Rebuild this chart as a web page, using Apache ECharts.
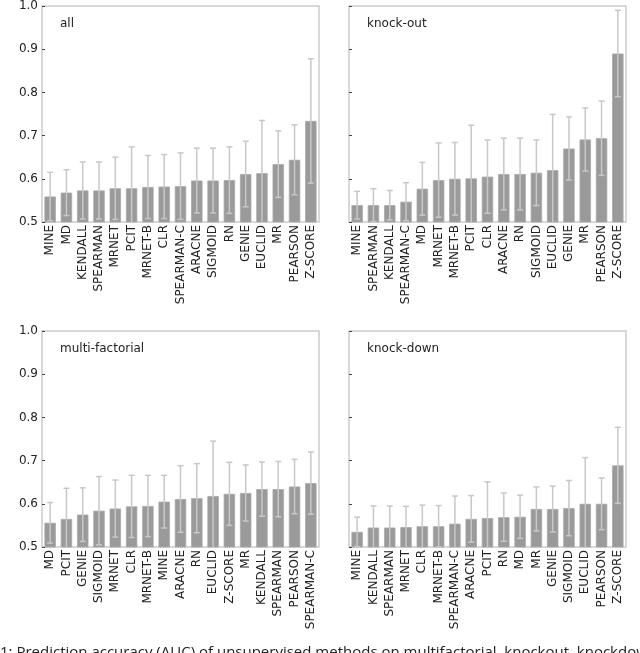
<!DOCTYPE html>
<html>
<head>
<meta charset="utf-8">
<script src="https://cdn.jsdelivr.net/npm/echarts@6/dist/echarts.min.js"></script>
<style>html,body{margin:0;padding:0;background:#fff;}#c{width:640px;height:653px;}</style>
</head>
<body>
<div id="c"></div>
<script>
const allNames = ['MINE','MD','KENDALL','SPEARMAN','MRNET','PCIT','MRNET-B','CLR','SPEARMAN-C','ARACNE','SIGMOID','RN','GENIE','EUCLID','MR','PEARSON','Z-SCORE'];
const allMean = [0.559,0.568,0.573,0.573,0.578,0.578,0.581,0.582,0.583,0.596,0.596,0.597,0.611,0.613,0.634,0.644,0.734];
const allErr = [0.056,0.053,0.066,0.066,0.072,0.096,0.073,0.074,0.077,0.075,0.075,0.077,0.076,0.122,0.077,0.081,0.144];

const koNames = ['MINE','SPEARMAN','KENDALL','SPEARMAN-C','MD','MRNET','MRNET-B','PCIT','CLR','ARACNE','RN','SIGMOID','EUCLID','GENIE','MR','PEARSON','Z-SCORE'];
const koMean = [0.539,0.539,0.539,0.547,0.577,0.597,0.600,0.601,0.605,0.611,0.611,0.614,0.620,0.670,0.691,0.694,0.890];
const koErr = [0.032,0.038,0.034,0.044,0.061,0.086,0.084,0.123,0.085,0.083,0.083,0.076,0.129,0.073,0.073,0.086,0.100];

const mfNames = ['MD','PCIT','GENIE','SIGMOID','MRNET','CLR','MRNET-B','MINE','ARACNE','RN','EUCLID','Z-SCORE','MR','KENDALL','SPEARMAN','PEARSON','SPEARMAN-C'];
const mfMean = [0.556,0.565,0.575,0.584,0.589,0.594,0.595,0.605,0.611,0.613,0.618,0.623,0.625,0.634,0.634,0.640,0.648];
const mfErr = [0.047,0.071,0.062,0.079,0.066,0.072,0.071,0.061,0.077,0.080,0.127,0.073,0.065,0.063,0.064,0.063,0.072];

const kdNames = ['MINE','KENDALL','SPEARMAN','MRNET','CLR','MRNET-B','SPEARMAN-C','ARACNE','PCIT','RN','MD','MR','GENIE','SIGMOID','EUCLID','PEARSON','Z-SCORE'];
const kdMean = [0.535,0.545,0.545,0.546,0.548,0.548,0.554,0.565,0.567,0.569,0.570,0.588,0.588,0.590,0.600,0.600,0.689];
const kdErr = [0.034,0.050,0.050,0.048,0.049,0.048,0.064,0.054,0.084,0.056,0.050,0.051,0.053,0.064,0.107,0.060,0.088];

const panelTitles = ['all','knock-out','multi-factorial','knock-down'];
const yTicks = [0.5, 0.6, 0.7, 0.8, 0.9, 1.0];
const caption = '1: Prediction accuracy (AUC) of unsupervised methods on multifactorial, knockout, knockdown';

const panels = [
  {names: allNames, mean: allMean, err: allErr},
  {names: koNames, mean: koMean, err: koErr},
  {names: mfNames, mean: mfMean, err: mfErr},
  {names: kdNames, mean: kdMean, err: kdErr}
];

const FONT = 'DejaVu Sans';
const gridPos = [
  {left: 42, top: 6}, {left: 349, top: 6}, {left: 42, top: 331}, {left: 349, top: 331}
];
const YMIN = yTicks[0], YMAX = yTicks[yTicks.length - 1];

function errItem(params, api) {
  const i = api.value(0), m = api.value(1), e = api.value(2);
  const loV = m - e, hiV = m + e;
  const hi = api.coord([i, Math.min(hiV, YMAX)]);
  const lo = api.coord([i, Math.max(loV, YMIN)]);
  const cap = 3;
  const st = {stroke: '#c8c8c8', lineWidth: 1.5};
  const ch = [
    {type: 'line', shape: {x1: lo[0], y1: lo[1], x2: hi[0], y2: hi[1]}, style: st}
  ];
  if (hiV <= YMAX) ch.push({type: 'line', shape: {x1: hi[0]-cap, y1: hi[1], x2: hi[0]+cap, y2: hi[1]}, style: st});
  if (loV >= YMIN) ch.push({type: 'line', shape: {x1: lo[0]-cap, y1: lo[1], x2: lo[0]+cap, y2: lo[1]}, style: st});
  return {type: 'group', children: ch};
}

const option = {
  animation: false,
  backgroundColor: '#fff',
  grid: gridPos.map(g => ({left: g.left, top: g.top, width: 277, height: 216, show: true,
    borderColor: '#cccccc', borderWidth: 1.5, backgroundColor: 'transparent'})),
  xAxis: panels.map((p, k) => ({
    type: 'category', gridIndex: k, data: p.names,
    axisLine: {show: false},
    axisTick: {show: true, inside: true, length: 3, alignWithLabel: true, lineStyle: {color: '#444', width: 1}},
    axisLabel: {rotate: 90, interval: 0, fontSize: 12, color: '#222', margin: 3, fontFamily: FONT}
  })),
  yAxis: panels.map((p, k) => ({
    type: 'value', gridIndex: k, min: YMIN, max: YMAX, interval: 0.1,
    axisLine: {show: false},
    splitLine: {show: false},
    axisTick: {show: true, inside: true, length: 3, lineStyle: {color: '#444', width: 1}},
    axisLabel: {show: k % 2 === 0, fontSize: 12, color: '#222', margin: 4, fontFamily: FONT,
      formatter: v => v.toFixed(1)}
  })),
  series: [].concat(...panels.map((p, k) => [
    {type: 'bar', xAxisIndex: k, yAxisIndex: k, data: p.mean, barWidth: '70%',
      itemStyle: {color: '#9a9a9a', borderColor: '#a8a8a8', borderWidth: 0.8}, z: 2},
    {type: 'custom', xAxisIndex: k, yAxisIndex: k, renderItem: errItem, z: 3,
      data: p.mean.map((m, i) => [i, m, p.err[i]])}
  ])),
  graphic: panelTitles.map((t, k) => ({
    type: 'text', left: gridPos[k].left + 18, top: gridPos[k].top + 12,
    style: {text: t, fontSize: 12, fill: '#222', fontFamily: FONT}
  })).concat([{
    type: 'text', left: 0, top: 645,
    style: {text: caption, fontSize: 15, fill: '#222', fontFamily: 'Open Sans'}
  }])
};

const chart = echarts.init(document.getElementById('c'), null, {renderer: 'canvas'});
chart.setOption(option);
</script>
</body>
</html>
